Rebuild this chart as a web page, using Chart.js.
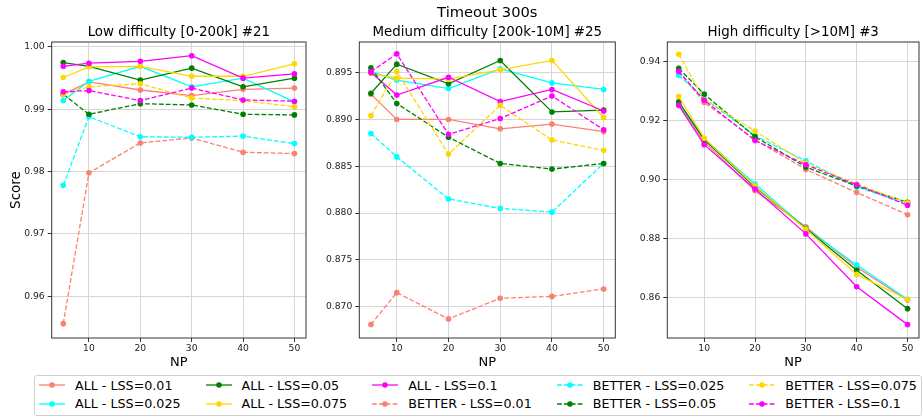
<!DOCTYPE html>
<html lang="en">
<head>
<meta charset="UTF-8">
<title>Timeout 300s</title>
<script src="https://cdn.jsdelivr.net/npm/chart.js"></script>
<style>
  body { margin: 0; background: #fff; }
  #wrap { position: relative; width: 923px; height: 417px; overflow: hidden; }
  #wrap canvas { position: absolute; top: 0; }
  #legend {
    position: absolute; left: 34px; top: 375px;
    border: 1px solid #d0d0d0; border-radius: 3px;
    padding: 0px 4px 2px 4px;
    display: flex; gap: 25px;
    font: 12.7px "DejaVu Sans", sans-serif; color: #000;
    white-space: nowrap; background: #fff;
  }
  #legend .item { display: flex; align-items: center; height: 18.4px; }
  #legend svg { margin-right: 10px; }
</style>
</head>
<body>
<div id="wrap">
  <canvas id="lowChart" width="310" height="372" style="left:0"></canvas>
  <canvas id="medChart" width="310" height="372" style="left:310px"></canvas>
  <canvas id="highChart" width="303" height="372" style="left:620px"></canvas>
  <div id="legend"></div>
</div>

<script>
  const npValues = [5, 10, 20, 30, 40, 50];
  const lssValues = ["0.01", "0.025", "0.05", "0.075", "0.1"];
  const lssColors = ["#fa8072", "#00ffff", "#008000", "#ffd700", "#ff00ff"];
  const xTicks = [10, 20, 30, 40, 50];

  // low difficulty, rows follow lssValues
  const lowAll = [
    [0.9924, 0.9944, 0.9931, 0.9922, 0.9932, 0.9934],
    [0.9914, 0.9945, 0.9969, 0.9936, 0.9950, 0.9912],
    [0.9975, 0.9969, 0.9947, 0.9966, 0.9936, 0.9950],
    [0.9951, 0.9968, 0.9969, 0.9953, 0.9953, 0.9973],
    [0.9969, 0.9974, 0.9977, 0.9986, 0.9950, 0.9957]
  ];
  const lowBetter = [
    [0.9556, 0.9798, 0.9846, 0.9854, 0.9831, 0.9829],
    [0.9778, 0.9888, 0.9856, 0.9855, 0.9857, 0.9845],
    [0.9924, 0.9892, 0.9909, 0.9907, 0.9892, 0.9891],
    [0.9924, 0.9936, 0.9941, 0.9918, 0.9914, 0.9904],
    [0.9928, 0.9930, 0.9914, 0.9934, 0.9915, 0.9913]
  ];
  const lowTicks = [0.96, 0.97, 0.98, 0.99, 1.00];

  // medium difficulty
  const medAll = [
    [0.8927, 0.8900, 0.8900, 0.8890, 0.8895, 0.8887],
    [0.8951, 0.8942, 0.8933, 0.8954, 0.8939, 0.8932],
    [0.8928, 0.8959, 0.8938, 0.8963, 0.8908, 0.8910],
    [0.8949, 0.8944, 0.8943, 0.8953, 0.8963, 0.8902],
    [0.8950, 0.8926, 0.8945, 0.8919, 0.8932, 0.8909]
  ];
  const medBetter = [
    [0.8681, 0.8715, 0.8687, 0.8709, 0.8711, 0.8719],
    [0.8885, 0.8860, 0.8815, 0.8805, 0.8801, 0.8853],
    [0.8955, 0.8917, 0.8881, 0.8853, 0.8847, 0.8853],
    [0.8904, 0.8951, 0.8863, 0.8915, 0.8878, 0.8867],
    [0.8951, 0.8970, 0.8884, 0.8901, 0.8925, 0.8889]
  ];
  const medTicks = [0.870, 0.875, 0.880, 0.885, 0.890, 0.895];

  // high difficulty
  const highAll = [
    [0.9255, 0.9128, 0.8962, 0.8840, 0.8703, 0.8592],
    [0.9260, 0.9138, 0.8985, 0.8835, 0.8711, 0.8595],
    [0.9263, 0.9135, 0.8975, 0.8834, 0.8693, 0.8563],
    [0.9281, 0.9140, 0.8978, 0.8832, 0.8679, 0.8594],
    [0.9251, 0.9118, 0.8968, 0.8816, 0.8637, 0.8509]
  ];
  const highBetter = [
    [0.9365, 0.9261, 0.9135, 0.9034, 0.8956, 0.8881],
    [0.9353, 0.9275, 0.9148, 0.9063, 0.8975, 0.8918],
    [0.9376, 0.9289, 0.9145, 0.9042, 0.8978, 0.8923],
    [0.9424, 0.9270, 0.9164, 0.9055, 0.8985, 0.8921],
    [0.9366, 0.9268, 0.9132, 0.9050, 0.8982, 0.8913]
  ];
  const highTicks = [0.86, 0.88, 0.90, 0.92, 0.94];

  Chart.defaults.font.family = "'DejaVu Sans', sans-serif";
  Chart.defaults.color = "#222";

  // matplotlib-style box around the axes
  const frame = {
    id: "frame",
    afterDraw(chart) {
      const { ctx, chartArea: a } = chart;
      ctx.save();
      ctx.strokeStyle = "#333";
      ctx.lineWidth = 1;
      ctx.strokeRect(a.left, a.top, a.right - a.left, a.bottom - a.top);
      ctx.restore();
    }
  };

  function buildDatasets(all, better) {
    const sets = [];
    [all, better].forEach((group, g) => {
      group.forEach((values, i) => {
        sets.push({
          label: (g ? "BETTER" : "ALL") + " - LSS=" + lssValues[i],
          data: npValues.map((x, j) => ({ x: x, y: values[j] })),
          borderColor: lssColors[i],
          backgroundColor: lssColors[i],
          borderWidth: 1.3,
          borderDash: g ? [4.8, 2.1] : [],
          pointRadius: 2.8,
          pointBorderWidth: 0,
          order: -sets.length
        });
      });
    });
    return sets;
  }

  function drawPanel(id, opts) {
    const subtitlePad = opts.suptitle ? { top: 2.1, bottom: 1.66 } : { top: 24.26, bottom: 1.66 };
    new Chart(document.getElementById(id).getContext("2d"), {
      type: "line",
      data: { datasets: buildDatasets(opts.all, opts.better) },
      options: {
        responsive: false,
        animation: false,
        devicePixelRatio: 1,
        layout: { padding: { left: 0, right: opts.padRight, top: 0, bottom: 0 } },
        plugins: {
          legend: { display: false },
          tooltip: { enabled: false },
          title: {
            display: !!opts.suptitle,
            text: opts.suptitle || "",
            fullSize: false,
            color: "#000",
            font: { size: 14.7, weight: "normal" },
            padding: { top: 4.5, bottom: 0 }
          },
          subtitle: {
            display: true,
            text: opts.title,
            fullSize: false,
            color: "#000",
            font: { size: 13.4, weight: "normal" },
            padding: subtitlePad
          }
        },
        scales: {
          x: {
            type: "linear",
            min: 2.75,
            max: 52.25,
            afterBuildTicks: axis => { axis.ticks = xTicks.map(v => ({ value: v })); },
            afterFit: axis => { axis.height = 34; },
            border: { display: false },
            grid: { color: "#d6d6d6", tickColor: "#333", tickLength: 4 },
            ticks: { font: { size: 9.2 }, padding: 1.5, maxRotation: 0, callback: v => v },
            title: { display: true, text: "NP", color: "#000", font: { size: 13 }, padding: { top: 0, bottom: 1.7 } }
          },
          y: {
            type: "linear",
            min: opts.range[0],
            max: opts.range[1],
            afterBuildTicks: axis => { axis.ticks = opts.ticks.map(v => ({ value: v })); },
            afterFit: axis => { axis.width = opts.yWidth; },
            border: { display: false },
            grid: { color: "#d6d6d6", tickColor: "#333", tickLength: 4 },
            ticks: { font: { size: 9.2 }, padding: 3, callback: v => v.toFixed(opts.digits) },
            title: {
              display: !!opts.yTitle,
              text: opts.yTitle || "",
              color: "#000",
              font: { size: 13.5 },
              padding: { top: 8, bottom: 0 }
            }
          }
        }
      },
      plugins: [frame]
    });
  }

  drawPanel("lowChart", {
    title: "Low difficulty [0-200k] #21",
    all: lowAll, better: lowBetter, ticks: lowTicks,
    range: [0.9533, 1.0008], digits: 2,
    yWidth: 51.7, padRight: 3.3, yTitle: "Score"
  });
  drawPanel("medChart", {
    title: "Medium difficulty [200k-10M] #25", suptitle: "Timeout 300s",
    all: medAll, better: medBetter, ticks: medTicks,
    range: [0.86666, 0.89827], digits: 3,
    yWidth: 49.3, padRight: 4.7
  });
  drawPanel("highChart", {
    title: "High difficulty [>10M] #3",
    all: highAll, better: highBetter, ticks: highTicks,
    range: [0.84637, 0.94653], digits: 2,
    yWidth: 47.3, padRight: 0.5
  });

  // legend: 5 columns, filled column by column like matplotlib
  const legendEl = document.getElementById("legend");
  const entries = [];
  ["ALL", "BETTER"].forEach(g => {
    lssValues.forEach((l, i) => {
      entries.push({ label: g + " - LSS=" + l, color: lssColors[i], dashed: g === "BETTER" });
    });
  });
  for (let c = 0; c < 5; c++) {
    const col = document.createElement("div");
    for (let r = 0; r < 2; r++) {
      const e = entries[c * 2 + r];
      const item = document.createElement("div");
      item.className = "item";
      item.innerHTML =
        '<svg width="26" height="10"><line x1="0" y1="5" x2="26" y2="5" stroke="' + e.color +
        '" stroke-width="1.3"' + (e.dashed ? ' stroke-dasharray="4.8 2.1"' : "") +
        '/><circle cx="13" cy="5" r="2.8" fill="' + e.color + '"/></svg>';
      const span = document.createElement("span");
      span.textContent = e.label;
      item.appendChild(span);
      col.appendChild(item);
    }
    legendEl.appendChild(col);
  }
</script>
</body>
</html>
